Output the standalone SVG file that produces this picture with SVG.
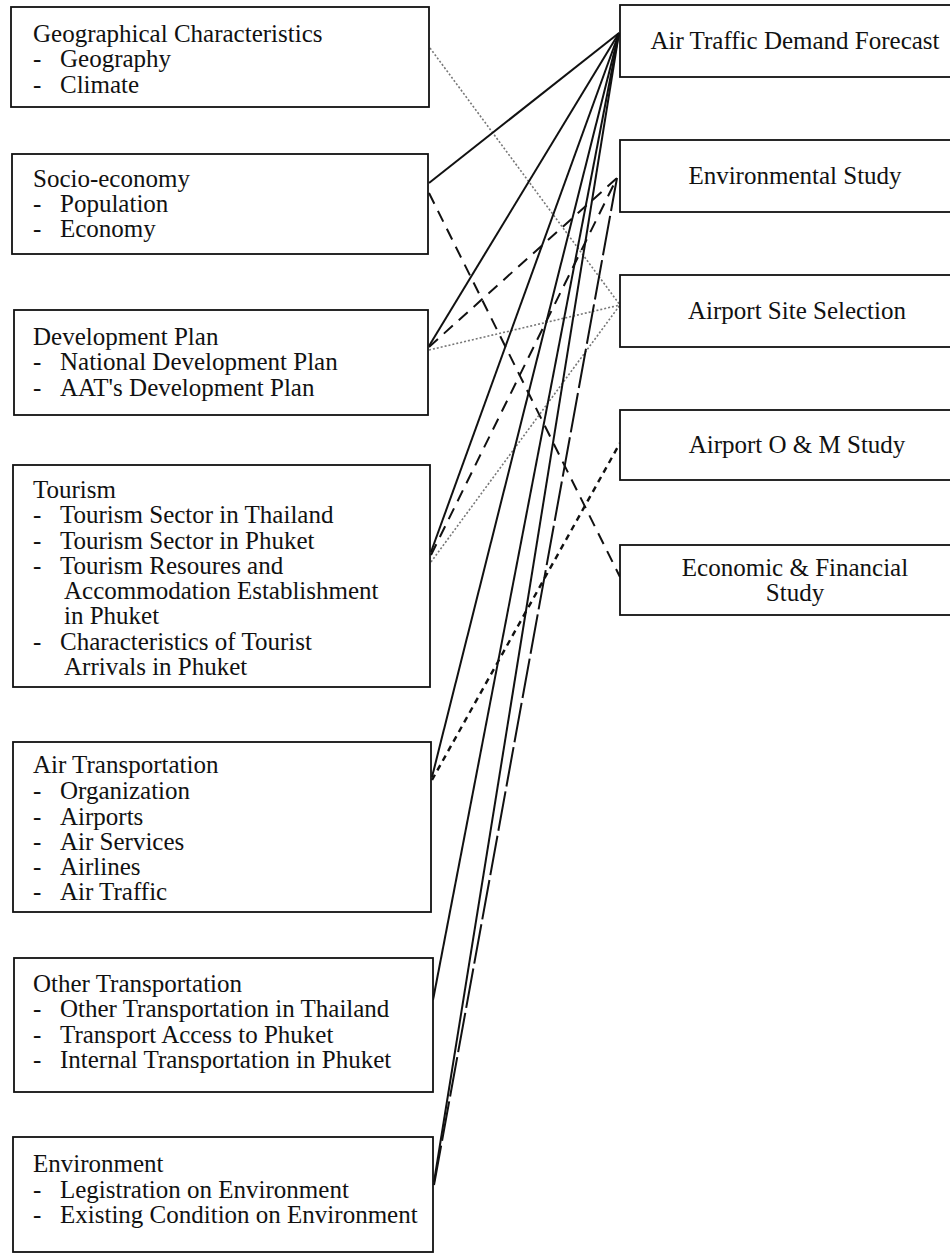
<svg xmlns="http://www.w3.org/2000/svg" width="950" height="1254" viewBox="0 0 950 1254">
<style>
.box{fill:#fff;stroke:#111;stroke-width:1.8}
.t{font-family:"Liberation Serif","Times New Roman",serif;font-size:25px;fill:#111}
.c{text-anchor:middle}
.solid{stroke:#111;stroke-width:2;fill:none}
.dash{stroke:#111;stroke-width:2;fill:none;stroke-dasharray:12 8}
.dashs{stroke:#111;stroke-width:2.4;fill:none;stroke-dasharray:6 5}
.dashl{stroke:#111;stroke-width:2;fill:none;stroke-dasharray:40 5}
.dot{stroke:#777;stroke-width:1.6;fill:none;stroke-dasharray:2 2}
</style>
<rect width="950" height="1254" fill="#fff"/>
<g id="connectors">
<line class="dot" x1="430" y1="48" x2="620" y2="305"/>
<line class="solid" x1="429" y1="183" x2="619" y2="33"/>
<line class="dash" x1="429" y1="193" x2="620" y2="577"/>
<line class="solid" x1="429" y1="346" x2="619" y2="33"/>
<line class="dash" x1="429" y1="347" x2="617" y2="178"/>
<line class="dot" x1="429" y1="350" x2="620" y2="305"/>
<line class="solid" x1="431" y1="552" x2="619" y2="33"/>
<line class="dash" x1="431" y1="555" x2="617" y2="178"/>
<line class="dot" x1="431" y1="562" x2="620" y2="305"/>
<line class="solid" x1="432" y1="777" x2="619" y2="33"/>
<line class="dashs" x1="432" y1="780" x2="620" y2="443"/>
<line class="solid" x1="433" y1="1000" x2="619" y2="33"/>
<line class="solid" x1="434" y1="1182" x2="619" y2="33"/>
<line class="dashl" x1="434" y1="1185" x2="617" y2="178"/>
</g>
<g id="geo">
<rect class="box" x="11" y="7" width="418" height="100"/>
<text class="t" x="33" y="42">Geographical Characteristics</text>
<text class="t" x="33" y="67">-</text><text class="t" x="60" y="67">Geography</text>
<text class="t" x="33" y="93">-</text><text class="t" x="60" y="93">Climate</text>
</g>
<g id="socio">
<rect class="box" x="12" y="154" width="416" height="100"/>
<text class="t" x="33" y="187">Socio-economy</text>
<text class="t" x="33" y="212">-</text><text class="t" x="60" y="212">Population</text>
<text class="t" x="33" y="237">-</text><text class="t" x="60" y="237">Economy</text>
</g>
<g id="devplan">
<rect class="box" x="14" y="310" width="414" height="105"/>
<text class="t" x="33" y="345">Development Plan</text>
<text class="t" x="33" y="370">-</text><text class="t" x="60" y="370">National Development Plan</text>
<text class="t" x="33" y="396">-</text><text class="t" x="60" y="396">AAT's Development Plan</text>
</g>
<g id="tourism">
<rect class="box" x="13" y="465" width="417" height="222"/>
<text class="t" x="33" y="498">Tourism</text>
<text class="t" x="33" y="523">-</text><text class="t" x="60" y="523">Tourism Sector in Thailand</text>
<text class="t" x="33" y="549">-</text><text class="t" x="60" y="549">Tourism Sector in Phuket</text>
<text class="t" x="33" y="574">-</text><text class="t" x="60" y="574">Tourism Resoures and</text>
<text class="t" x="64" y="599">Accommodation Establishment</text>
<text class="t" x="64" y="624">in Phuket</text>
<text class="t" x="33" y="650">-</text><text class="t" x="60" y="650">Characteristics of Tourist</text>
<text class="t" x="64" y="675">Arrivals in Phuket</text>
</g>
<g id="airtransport">
<rect class="box" x="13" y="742" width="418" height="170"/>
<text class="t" x="33" y="773">Air Transportation</text>
<text class="t" x="33" y="799">-</text><text class="t" x="60" y="799">Organization</text>
<text class="t" x="33" y="825">-</text><text class="t" x="60" y="825">Airports</text>
<text class="t" x="33" y="850">-</text><text class="t" x="60" y="850">Air Services</text>
<text class="t" x="33" y="875">-</text><text class="t" x="60" y="875">Airlines</text>
<text class="t" x="33" y="900">-</text><text class="t" x="60" y="900">Air Traffic</text>
</g>
<g id="othertransport">
<rect class="box" x="14" y="958" width="419" height="134"/>
<text class="t" x="33" y="992">Other Transportation</text>
<text class="t" x="33" y="1017">-</text><text class="t" x="60" y="1017">Other Transportation in Thailand</text>
<text class="t" x="33" y="1043">-</text><text class="t" x="60" y="1043">Transport Access to Phuket</text>
<text class="t" x="33" y="1068">-</text><text class="t" x="60" y="1068">Internal Transportation in Phuket</text>
</g>
<g id="environment">
<rect class="box" x="13" y="1137" width="420" height="115"/>
<text class="t" x="33" y="1172">Environment</text>
<text class="t" x="33" y="1198">-</text><text class="t" x="60" y="1198">Legistration on Environment</text>
<text class="t" x="33" y="1223">-</text><text class="t" x="60" y="1223">Existing Condition on Environment</text>
</g>
<g id="atdf">
<rect class="box" x="620" y="5" width="340" height="72"/>
<text class="t c" x="795" y="49">Air Traffic Demand Forecast</text>
</g>
<g id="envstudy">
<rect class="box" x="620" y="140" width="340" height="72"/>
<text class="t c" x="795" y="184">Environmental Study</text>
</g>
<g id="siteselection">
<rect class="box" x="620" y="275" width="340" height="72"/>
<text class="t c" x="797" y="319">Airport Site Selection</text>
</g>
<g id="omstudy">
<rect class="box" x="620" y="410" width="340" height="70"/>
<text class="t c" x="797" y="453">Airport O &amp; M Study</text>
</g>
<g id="econfin">
<rect class="box" x="620" y="545" width="340" height="70"/>
<text class="t c" x="795" y="576">Economic &amp; Financial</text>
<text class="t c" x="795" y="601">Study</text>
</g>
</svg>
